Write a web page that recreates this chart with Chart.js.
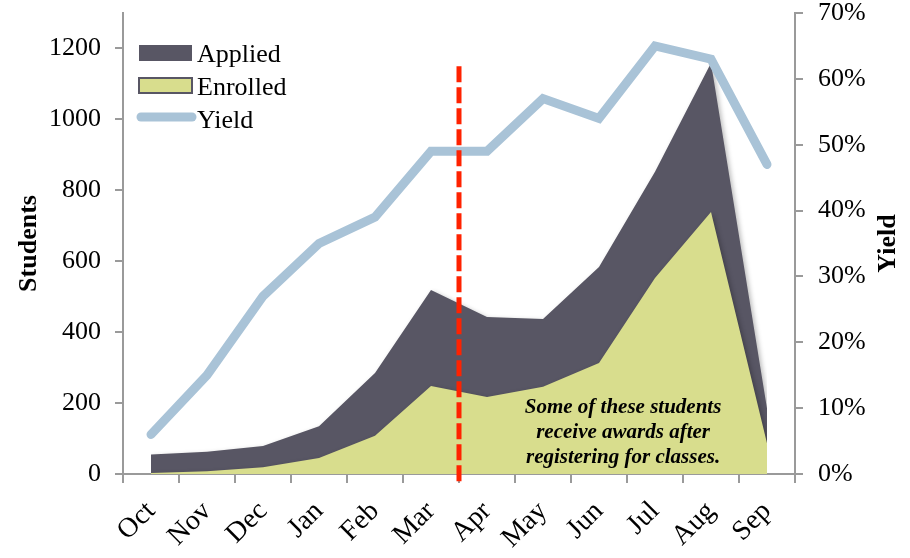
<!DOCTYPE html>
<html><head><meta charset="utf-8">
<script src="https://cdn.jsdelivr.net/npm/chart.js@4"></script>
<style>html,body{margin:0;padding:0;background:#fff}#w{width:910px;height:558px}</style>
</head><body><div id="w"><canvas id="c" width="910" height="558"></canvas></div>
<script>
const months = ['Oct','Nov','Dec','Jan','Feb','Mar','Apr','May','Jun','Jul','Aug','Sep'];
const applied = [55,63,79,135,285,519,443,437,584,852,1159,185];
const enrolled = [3,8,19,45,108,248,217,246,313,553,739,87];
const yieldPct = [6,15,27,35,39,49,49,57,54,65,63,47];
const noteLines = ['Some of these students','receive awards after','registering for classes.'];
const markerBetween = ['Mar','Apr'];

const FONT = "'Liberation Serif', 'Times New Roman', serif";
const AXIS = '#9a9a9a';
const C_APPLIED = '#585664';
const C_ENROLLED = '#d8dd8d';
const C_YIELD = '#a9c3d7';

const shadowPlugin = {
  id: 'shadow',
  beforeDatasetsDraw(chart) {
    const ctx = chart.ctx;
    ctx.save();
    ctx.shadowColor = 'rgba(0,0,0,0.28)';
    ctx.shadowBlur = 5;
    ctx.shadowOffsetX = 2;
    ctx.shadowOffsetY = 2;
  },
  beforeDatasetDraw(chart, args) {
    if (chart.data.datasets[args.index].label === 'Yield') {
      const ctx = chart.ctx;
      ctx.shadowColor = 'rgba(0,0,0,0)';
      ctx.shadowBlur = 0;
      ctx.shadowOffsetX = 0;
      ctx.shadowOffsetY = 0;
    }
  },
  afterDatasetsDraw(chart) {
    chart.ctx.restore();
  }
};

const overlayPlugin = {
  id: 'overlay',
  afterDatasetsDraw(chart) {
    const ctx = chart.ctx;
    const x = chart.scales.x, yL = chart.scales.yL, area = chart.chartArea;
    ctx.save();
    ctx.shadowColor = 'rgba(0,0,0,0)';
    const i0 = months.indexOf(markerBetween[0]), i1 = months.indexOf(markerBetween[1]);
    const mx = (x.getPixelForValue(i0) + x.getPixelForValue(i1)) / 2;
    ctx.strokeStyle = '#ff2200';
    ctx.lineWidth = 5;
    ctx.setLineDash([16, 5]);
    ctx.beginPath();
    ctx.moveTo(mx, yL.getPixelForValue(1150));
    ctx.lineTo(mx, area.bottom + 9);
    ctx.stroke();
    ctx.setLineDash([]);

    ctx.fillStyle = '#000';
    ctx.font = 'italic bold 21px ' + FONT;
    ctx.textAlign = 'center';
    ctx.textBaseline = 'middle';
    const tx = x.getPixelForValue(8.43);
    const ty = yL.getPixelForValue(186);
    noteLines.forEach((t, k) => ctx.fillText(t, tx, ty + k * 25));

    const lx = 139, lw = 53;
    ctx.font = '26px ' + FONT;
    ctx.textAlign = 'left';
    ctx.textBaseline = 'middle';
    const ds = chart.data.datasets;
    ctx.fillStyle = C_APPLIED;
    ctx.fillRect(lx, 45, lw, 16);
    ctx.fillStyle = '#000';
    ctx.fillText(ds[0].label, 197, 55);
    ctx.fillStyle = C_ENROLLED;
    ctx.fillRect(lx, 78, lw, 15);
    ctx.strokeStyle = C_APPLIED;
    ctx.lineWidth = 2;
    ctx.strokeRect(lx, 78, lw, 15);
    ctx.fillStyle = '#000';
    ctx.fillText(ds[1].label, 197, 88);
    ctx.strokeStyle = C_YIELD;
    ctx.lineWidth = 9;
    ctx.lineCap = 'round';
    ctx.beginPath();
    ctx.moveTo(lx + 2, 117);
    ctx.lineTo(lx + lw, 117);
    ctx.stroke();
    ctx.fillStyle = '#000';
    ctx.fillText(ds[2].label, 197, 121);

    ctx.save();
    ctx.translate(888, (area.top + area.bottom) / 2);
    ctx.rotate(-Math.PI / 2);
    ctx.font = 'bold 26px ' + FONT;
    ctx.textAlign = 'center';
    ctx.textBaseline = 'middle';
    ctx.fillText('Yield', 0, 0);
    ctx.restore();
    ctx.restore();
  }
};

function fixY(width) {
  return function (s) { s.width = width; s.paddingTop = 13; s.paddingBottom = 0; };
}

new Chart(document.getElementById('c'), {
  type: 'line',
  data: {
    labels: months,
    datasets: [
      { label: 'Applied', data: applied, yAxisID: 'yL', fill: 'origin',
        backgroundColor: C_APPLIED, borderWidth: 0, pointRadius: 0, tension: 0, order: 2 },
      { label: 'Enrolled', data: enrolled, yAxisID: 'yL', fill: 'origin',
        backgroundColor: C_ENROLLED, borderWidth: 0, pointRadius: 0, tension: 0, order: 1 },
      { label: 'Yield', data: yieldPct, yAxisID: 'yR', fill: false,
        borderColor: C_YIELD, borderWidth: 9, borderCapStyle: 'round', borderJoinStyle: 'miter',
        pointRadius: 0, tension: 0, order: 0 }
    ]
  },
  options: {
    responsive: false,
    devicePixelRatio: 1,
    animation: false,
    layout: { padding: 0 },
    plugins: { legend: { display: false }, tooltip: { enabled: false } },
    scales: {
      x: {
        type: 'category', offset: true,
        grid: { offset: true, drawOnChartArea: false, drawTicks: true, tickLength: 9, color: AXIS, lineWidth: 2 },
        border: { display: true, color: AXIS, width: 2 },
        ticks: { color: '#000', font: { family: FONT, size: 28 }, minRotation: 45, maxRotation: 45, padding: 12, autoSkip: false },
        afterFit(s) { s.height = 84; s.paddingLeft = 0; s.paddingRight = 0; }
      },
      yL: {
        position: 'left', min: 0, max: 1300,
        grid: { drawOnChartArea: false, drawTicks: true, tickLength: 8, color: AXIS, lineWidth: 2 },
        border: { display: true, color: AXIS, width: 2 },
        ticks: { stepSize: 200, includeBounds: false, color: '#000', font: { family: FONT, size: 26 }, padding: 14, callback: v => String(v) },
        title: { display: true, text: 'Students', color: '#000', font: { family: FONT, size: 26, weight: 'bold' }, padding: { top: 14, bottom: 0 } },
        afterFit: fixY(123)
      },
      yR: {
        position: 'right', min: 0, max: 70,
        grid: { drawOnChartArea: false, drawTicks: true, tickLength: 8, color: AXIS, lineWidth: 2 },
        border: { display: true, color: AXIS, width: 2 },
        ticks: { stepSize: 10, color: '#000', font: { family: FONT, size: 26 }, padding: 15, callback: v => v + '%' },
        afterFit: fixY(115)
      }
    }
  },
  plugins: [shadowPlugin, overlayPlugin]
});
</script>
</body></html>
